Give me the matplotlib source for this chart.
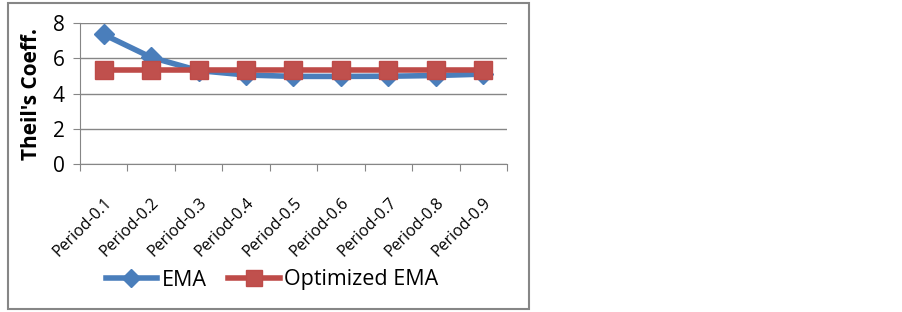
import numpy as np
import matplotlib
matplotlib.use('Agg')
import matplotlib.pyplot as plt
from matplotlib.patches import Rectangle
from matplotlib.lines import Line2D

# Данные
periods = ['Period-0.1', 'Period-0.2', 'Period-0.3', 'Period-0.4', 'Period-0.5',
           'Period-0.6', 'Period-0.7', 'Period-0.8', 'Period-0.9']
ema = [7.35, 6.05, 5.3, 5.05, 4.97, 4.97, 4.98, 5.02, 5.1]
opt_ema = [5.33, 5.33, 5.33, 5.33, 5.33, 5.33, 5.33, 5.33, 5.33]
yticks = [0, 2, 4, 6, 8]

plt.rcParams['font.family'] = ['Open Sans', 'DejaVu Sans']

W, H = 903, 312
fig = plt.figure(figsize=(W / 100, H / 100), dpi=100)

# рамка вокруг диаграммы
fig.patches.append(Rectangle((8 / W, 1 - 309 / H), (529 - 8) / W, (309 - 3) / H,
                             transform=fig.transFigure, fill=False,
                             edgecolor='#868686', linewidth=1.5))

ax = fig.add_axes([80 / W, 1 - 164 / H, (507 - 80) / W, (164 - 23) / H])
x = np.arange(len(periods))
ax.plot(x, ema, color='#4a7ebb', linewidth=4, marker='D', markersize=10,
        markerfacecolor='#4a7ebb', markeredgecolor='#4a7ebb', zorder=3)
ax.plot(x, opt_ema, color='#be4b48', linewidth=4, marker='s', markersize=13,
        markerfacecolor='#c0504d', markeredgecolor='#be4b48', zorder=4)

ax.set_xlim(-0.5, len(periods) - 0.5)
ax.set_ylim(0, 8)
ax.set_yticks(yticks)
ax.set_yticklabels([str(t) for t in yticks], fontsize=15)
ax.set_xticks(np.arange(len(periods) + 1) - 0.5)
ax.set_xticklabels([])
ax.set_xticks(x, minor=True)
ax.set_xticklabels(periods, minor=True, rotation=45, ha='right',
                   rotation_mode='anchor', fontsize=11.5)
ax.tick_params(axis='x', which='minor', length=0, pad=22)
ax.tick_params(axis='x', which='major', length=5, color='#868686')
ax.tick_params(axis='y', length=5, color='#868686', pad=6)
ax.grid(axis='y', color='#868686', linewidth=1)
ax.set_axisbelow(True)
for s in ['top', 'right']:
    ax.spines[s].set_visible(False)
for s in ['left', 'bottom']:
    ax.spines[s].set_color('#868686')
ax.set_ylabel("Theil's Coeff.", fontsize=15, fontweight='bold', labelpad=8)

handles = [
    Line2D([], [], color='#4a7ebb', linewidth=4, marker='D', markersize=9),
    Line2D([], [], color='#be4b48', linewidth=4, marker='s', markersize=12,
           markerfacecolor='#c0504d'),
]
fig.legend(handles, ['EMA', 'Optimized EMA'], loc='center',
           bbox_to_anchor=(272 / W, 1 - 280 / H), ncol=2, frameon=False,
           fontsize=15.5, handlelength=2.4, handletextpad=0.2, columnspacing=1.0)

fig.savefig('out.png', dpi=100)
